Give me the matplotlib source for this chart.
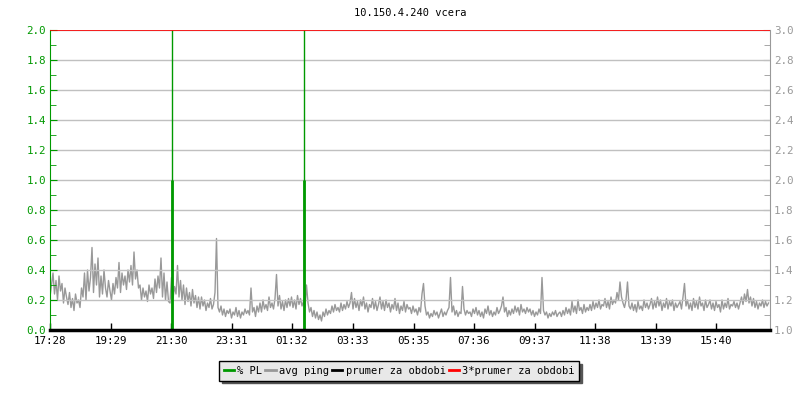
import matplotlib
matplotlib.use("Agg")
import matplotlib.pyplot as plt
from matplotlib.lines import Line2D
from matplotlib.ticker import MultipleLocator, FormatStrFormatter
import numpy as np

# time axis labels (minutes counted from 17:28)
tick_labels = ['17:28', '19:29', '21:30', '23:31', '01:32', '03:33',
               '05:35', '07:36', '09:37', '11:38', '13:39', '15:40']

# avg ping [ms], one sample every 3 minutes from 17:28 (one row = 1 hour)
ping = [
    1.22, 1.30, 1.38, 1.24, 1.33, 1.20, 1.36, 1.26, 1.31, 1.18, 1.28, 1.22, 1.17, 1.25, 1.15, 1.21, 1.13, 1.24, 1.18, 1.20,
    1.15, 1.28, 1.22, 1.38, 1.20, 1.40, 1.26, 1.35, 1.55, 1.25, 1.44, 1.30, 1.48, 1.22, 1.36, 1.24, 1.40, 1.28, 1.22, 1.33,
    1.26, 1.20, 1.31, 1.24, 1.35, 1.28, 1.45, 1.25, 1.38, 1.30, 1.36, 1.27, 1.40, 1.32, 1.43, 1.30, 1.52, 1.34, 1.40, 1.28,
    1.30, 1.20, 1.28, 1.22, 1.26, 1.19, 1.30, 1.24, 1.28, 1.21, 1.34, 1.25, 1.36, 1.28, 1.48, 1.22, 1.38, 1.20, 1.32, 1.19,
    1.18, 1.35, 1.21, 1.29, 1.24, 1.43, 1.22, 1.33, 1.20, 1.30, 1.17, 1.28, 1.19, 1.25, 1.16, 1.27, 1.18, 1.23, 1.15, 1.22,
    1.14, 1.22, 1.16, 1.20, 1.13, 1.18, 1.15, 1.21, 1.14, 1.17, 1.25, 1.61, 1.15, 1.12, 1.16, 1.10, 1.14, 1.09, 1.13, 1.11,
    1.14, 1.08, 1.12, 1.10, 1.15, 1.09, 1.13, 1.08, 1.12, 1.10, 1.14, 1.11, 1.13, 1.10, 1.28, 1.12, 1.15, 1.09, 1.16, 1.12,
    1.18, 1.12, 1.20, 1.14, 1.17, 1.13, 1.22, 1.15, 1.18, 1.14, 1.21, 1.37, 1.16, 1.23, 1.14, 1.19, 1.13, 1.20, 1.15, 1.21,
    1.16, 1.22, 1.15, 1.20, 1.14, 1.23, 1.17, 1.21, 1.16, 1.19, 1.15, 1.30, 1.18, 1.12, 1.15, 1.09, 1.13, 1.08, 1.12, 1.07,
    1.10, 1.06, 1.12, 1.09, 1.14, 1.10, 1.13, 1.11, 1.16, 1.12, 1.17, 1.13, 1.15, 1.12, 1.18, 1.13, 1.17, 1.14, 1.19, 1.15,
    1.18, 1.25, 1.14, 1.21, 1.15, 1.19, 1.13, 1.20, 1.16, 1.22, 1.14, 1.18, 1.12, 1.17, 1.15, 1.21, 1.14, 1.19, 1.13, 1.17,
    1.22, 1.14, 1.19, 1.13, 1.20, 1.15, 1.18, 1.12, 1.17, 1.14, 1.21, 1.13, 1.18, 1.11, 1.16, 1.13, 1.19, 1.12, 1.17, 1.14,
    1.15, 1.11, 1.16, 1.12, 1.14, 1.10, 1.15, 1.12, 1.24, 1.31, 1.16, 1.10, 1.12, 1.08, 1.11, 1.09, 1.13, 1.10, 1.12, 1.08,
    1.11, 1.14, 1.09, 1.12, 1.10, 1.13, 1.15, 1.35, 1.12, 1.16, 1.10, 1.13, 1.09, 1.12, 1.11, 1.29, 1.14, 1.10, 1.13, 1.11,
    1.12, 1.09, 1.14, 1.11, 1.15, 1.10, 1.13, 1.09, 1.12, 1.08, 1.14, 1.11, 1.16, 1.10, 1.13, 1.09, 1.12, 1.10, 1.15, 1.11,
    1.13, 1.16, 1.22, 1.12, 1.15, 1.09, 1.13, 1.10, 1.14, 1.11, 1.16, 1.12, 1.15, 1.10, 1.17, 1.12, 1.14, 1.11, 1.15, 1.12,
    1.14, 1.10, 1.13, 1.09, 1.12, 1.10, 1.14, 1.11, 1.35, 1.13, 1.10, 1.12, 1.08, 1.11, 1.09, 1.12, 1.10, 1.13, 1.09, 1.11,
    1.12, 1.09, 1.13, 1.10, 1.15, 1.11, 1.14, 1.10, 1.19, 1.12, 1.16, 1.11, 1.20, 1.13, 1.15, 1.11, 1.17, 1.12, 1.15, 1.13,
    1.17, 1.13, 1.19, 1.14, 1.18, 1.15, 1.20, 1.14, 1.17, 1.16, 1.21, 1.15, 1.19, 1.14, 1.22, 1.17, 1.20, 1.18, 1.25, 1.20,
    1.32, 1.22, 1.18, 1.15, 1.20, 1.32, 1.16, 1.14, 1.18, 1.13, 1.17, 1.12, 1.19, 1.14, 1.16, 1.13, 1.20, 1.15, 1.18, 1.14,
    1.17, 1.21, 1.14, 1.19, 1.15, 1.22, 1.16, 1.20, 1.13, 1.18, 1.15, 1.21, 1.14, 1.19, 1.16, 1.20, 1.13, 1.18, 1.15, 1.17,
    1.19, 1.14, 1.22, 1.31, 1.16, 1.20, 1.14, 1.18, 1.13, 1.21, 1.15, 1.19, 1.14, 1.22, 1.16, 1.18, 1.13, 1.20, 1.15, 1.17,
    1.20, 1.14, 1.18, 1.13, 1.19, 1.15, 1.17, 1.12, 1.20, 1.14, 1.18, 1.15, 1.21, 1.14, 1.17, 1.16, 1.19, 1.15, 1.18, 1.14,
    1.18, 1.22, 1.17, 1.24, 1.19, 1.27, 1.18, 1.22, 1.16, 1.21, 1.15, 1.19, 1.14, 1.18, 1.16, 1.20, 1.15, 1.19, 1.16, 1.18,
]
ping_step = 3

# packet loss spikes [%]
pl_minutes = [243, 244, 507, 508]
pl_values = [1.0, 2.0, 1.0, 2.0]
pl_mean = 0.0
pl_mean3 = 2.0

GREEN = '#009900'
GREY = '#999999'
FS = 7.2
plt.rcParams['font.family'] = 'DejaVu Sans Mono'

fig = plt.figure(figsize=(8, 4), dpi=100)
ax = fig.add_axes([0.0625, 0.175, 0.9, 0.75])
ax2 = ax.twinx()
ax.set_zorder(ax2.get_zorder() + 1)
ax.patch.set_visible(False)

t_ping = np.arange(len(ping)) * ping_step
ax2.plot(t_ping, ping, color=GREY, lw=1)

ax.vlines(pl_minutes[0::2], 0, pl_values[0::2], color=GREEN, lw=2)
ax.vlines(pl_minutes[1::2], 0, pl_values[1::2], color=GREEN, lw=1)
ax.axhline(pl_mean3, color='red', lw=1.2, zorder=5)
ax.axhline(pl_mean, color='black', lw=2.5, zorder=5, clip_on=False)

# tick positions from labels
def to_min(s):
    h, m = s.split(':')
    return (int(h) * 60 + int(m) - (17 * 60 + 28)) % 1440
tick_pos = [to_min(s) for s in tick_labels]

ax.set_xlim(0, 1440)
ax.set_ylim(0, 2.0)
ax2.set_ylim(1.0, 3.0)
ax.set_xticks(tick_pos)
ax.set_xticklabels(tick_labels)
for a in (ax, ax2):
    a.yaxis.set_major_locator(MultipleLocator(0.2))
    a.yaxis.set_minor_locator(MultipleLocator(0.1))
    a.yaxis.set_major_formatter(FormatStrFormatter('%.1f'))
ax.grid(axis='y', color='#c0c0c0', lw=1)
ax.set_axisbelow(True)

ax.tick_params(axis='y', which='both', direction='in', colors=GREEN,
               labelsize=FS + 0.6, pad=3)
ax.tick_params(axis='y', which='major', length=5)
ax.tick_params(axis='y', which='minor', length=4)
ax2.tick_params(axis='y', which='both', direction='in', colors=GREY,
                labelsize=FS + 0.6, pad=3)
ax2.tick_params(axis='y', which='major', length=5)
ax2.tick_params(axis='y', which='minor', length=4)
ax.tick_params(axis='x', direction='in', length=5, width=1, labelsize=FS + 0.6,
               pad=4, colors='black')

for a in (ax, ax2):
    a.spines['top'].set_visible(False)
    a.spines['bottom'].set_visible(False)
ax.spines['left'].set_color(GREEN)
ax.spines['right'].set_visible(False)
ax2.spines['left'].set_visible(False)
ax2.spines['right'].set_color(GREY)

fig.text(0.5125, 0.968, '10.150.4.240 vcera', ha='center', va='center',
         fontsize=FS + 0.3)

handles = [Line2D([], [], color=GREEN, lw=2),
           Line2D([], [], color=GREY, lw=2),
           Line2D([], [], color='black', lw=2),
           Line2D([], [], color='red', lw=2)]
names = ['% PL', 'avg ping', 'prumer za obdobi', '3*prumer za obdobi']
leg = fig.legend(handles, names, loc='center', bbox_to_anchor=(0.499, 0.0725),
                 ncol=4, fontsize=FS + 0.3, frameon=True, fancybox=False,
                 shadow={'color': '#555555', 'alpha': 1},
                 handlelength=1.0, handletextpad=0.3, columnspacing=0.3,
                 borderpad=0.45, borderaxespad=0)
leg.get_frame().set_facecolor('#e8e8e8')
leg.get_frame().set_edgecolor('black')
leg.get_frame().set_alpha(1)

plt.savefig('out.png', dpi=100)
